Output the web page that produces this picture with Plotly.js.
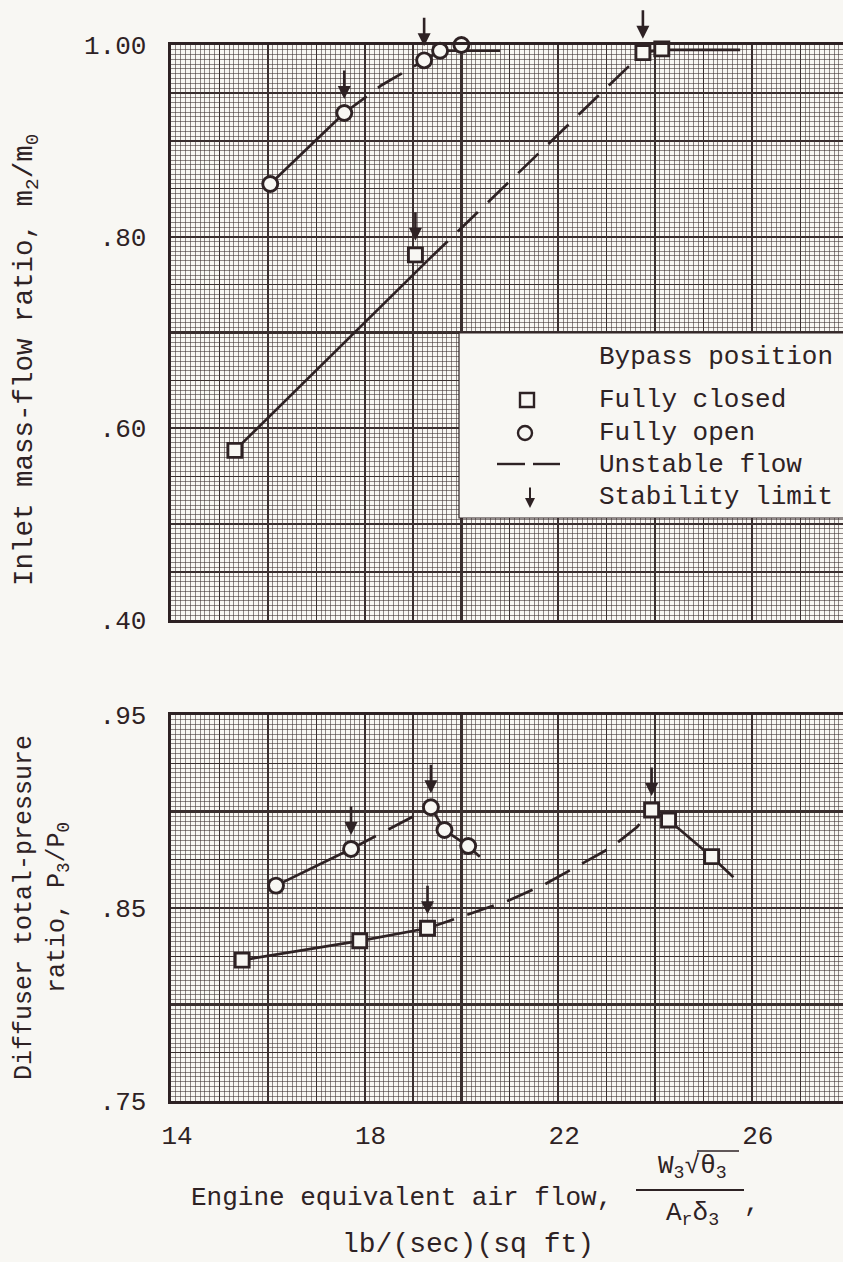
<!DOCTYPE html>
<html><head><meta charset="utf-8">
<script src="https://cdn.plot.ly/plotly-3.0.1.min.js"></script>
<style>html,body{margin:0;padding:0;background:#f8f7f3}</style>
</head><body><div id="chart" style="width:843px;height:1262px"></div>
<script>
// ---------- data ----------
// tick labels
const xTickVals = [14, 18, 22, 26];
const xTickText = ['14', '18', '22', '26'];
const topTickVals = [0.40, 0.60, 0.80, 1.00];
const topTickText = ['.40', '.60', '.80', '1.00'];
const botTickVals = [0.75, 0.85, 0.95];
const botTickText = ['.75', '.85', '.95'];

// Inlet mass-flow ratio m2/m0 -- measured points
const closedTopX = [15.32, 19.05, 23.75, 24.14, 24.97];
const closedTopY = [0.577, 0.781, 0.992, 0.996, 1.004];
const openTopX = [16.05, 17.58, 19.23, 19.56, 20.00];
const openTopY = [0.855, 0.929, 0.984, 0.994, 1.000];
// faired curves
const closedTopStableLowX = [15.32, 19.30];
const closedTopStableLowY = [0.577, 0.775];
const closedTopUnstableX = [19.30, 23.75];
const closedTopUnstableY = [0.775, 0.992];
const closedTopStableHighX = [23.75, 24.14, 25.76];
const closedTopStableHighY = [0.992, 0.995, 0.995];
const openTopStableLowX = [16.05, 17.58];
const openTopStableLowY = [0.855, 0.929];
const openTopUnstableX = [17.58, 18.35, 19.23];
const openTopUnstableY = [0.929, 0.958, 0.984];
const openTopStableHighX = [19.23, 19.56, 20.80];
const openTopStableHighY = [0.984, 0.994, 0.994];

// Diffuser total-pressure ratio P3/P0 -- measured points
const closedBotX = [15.47, 17.90, 19.30, 23.93, 24.28, 25.17];
const closedBotY = [0.823, 0.833, 0.8395, 0.9008, 0.8956, 0.8766];
const openBotX = [16.17, 17.72, 19.37, 19.65, 20.14];
const openBotY = [0.8616, 0.8806, 0.9022, 0.8904, 0.8821];
// faired curves
const closedBotStableLowX = [15.47, 17.90, 19.30];
const closedBotStableLowY = [0.823, 0.833, 0.8395];
const closedBotUnstableX = [19.30, 20.28, 21.00, 21.73, 22.45, 23.11, 23.63, 23.93];
const closedBotUnstableY = [0.8395, 0.8479, 0.8541, 0.8624, 0.8723, 0.8816, 0.8920, 0.9008];
const closedBotStableHighX = [23.93, 24.28, 25.17, 25.62];
const closedBotStableHighY = [0.9008, 0.8956, 0.8766, 0.8659];
const openBotStableLowX = [16.17, 17.72];
const openBotStableLowY = [0.8616, 0.8806];
const openBotUnstableX = [17.72, 19.37];
const openBotUnstableY = [0.8806, 0.9022];
const openBotStableHighX = [19.37, 19.65, 20.14, 20.38];
const openBotStableHighY = [0.9022, 0.8904, 0.8821, 0.8766];

// stability-limit points (indices into measured series)
const closedTopLimits = [1, 2];
const openTopLimits = [1, 2];
const closedBotLimits = [2, 3];
const openBotLimits = [1, 2];

// ---------- styling ----------
const BG = '#f8f7f3';
const INK = '#2e2224';
const GRID = '#3a2f2f';
const GRID_MINOR = 'rgba(62,50,50,0.72)';
const FONT = '"Liberation Mono", "Courier New", monospace';
const FS = 26;

const L = 171, R = 843, T = 45, B = 1101, W = 843, H = 1262;
const px = v => (v - L) / (R - L);
const py = v => (B - v) / (B - T);
const X_MAX = 14 + (R - L) / 48.4;

function lineTrace(x, y, ya, dashed) {
  return {type: 'scatter', mode: 'lines', x: x, y: y, xaxis: 'x', yaxis: ya, cliponaxis: false,
    line: {color: INK, width: 2.7, dash: dashed ? '28px,14px' : 'solid'},
    hoverinfo: 'skip', showlegend: false};
}
function markerTrace(x, y, ya, symbol, name) {
  return {type: 'scatter', mode: 'markers', x: x, y: y, xaxis: 'x', yaxis: ya, name: name,
    cliponaxis: false,
    marker: {symbol: symbol, size: symbol === 'square' ? 14 : 15, color: BG,
      line: {color: INK, width: 2.9}}, showlegend: false};
}
function gridCarrier(xa, ya) {
  return {type: 'scatter', mode: 'lines', x: [], y: [], xaxis: xa, yaxis: ya,
    hoverinfo: 'skip', showlegend: false};
}

const traces = [
  gridCarrier('x2', 'y3'), gridCarrier('x3', 'y4'),
  gridCarrier('x2', 'y5'), gridCarrier('x3', 'y6'),
  lineTrace(closedTopStableLowX, closedTopStableLowY, 'y', false),
  lineTrace(closedTopUnstableX, closedTopUnstableY, 'y', true),
  lineTrace(closedTopStableHighX, closedTopStableHighY, 'y', false),
  lineTrace(openTopStableLowX, openTopStableLowY, 'y', false),
  lineTrace(openTopUnstableX, openTopUnstableY, 'y', true),
  lineTrace(openTopStableHighX, openTopStableHighY, 'y', false),
  lineTrace(closedBotStableLowX, closedBotStableLowY, 'y2', false),
  lineTrace(closedBotUnstableX, closedBotUnstableY, 'y2', true),
  lineTrace(closedBotStableHighX, closedBotStableHighY, 'y2', false),
  lineTrace(openBotStableLowX, openBotStableLowY, 'y2', false),
  lineTrace(openBotUnstableX, openBotUnstableY, 'y2', true),
  lineTrace(openBotStableHighX, openBotStableHighY, 'y2', false),
  markerTrace(closedTopX, closedTopY, 'y', 'square', 'Fully closed'),
  markerTrace(openTopX, openTopY, 'y', 'circle', 'Fully open'),
  markerTrace(closedBotX, closedBotY, 'y2', 'square', 'Fully closed'),
  markerTrace(openBotX, openBotY, 'y2', 'circle', 'Fully open')
];

const tickFont = {family: FONT, size: FS, color: INK};
const TOP_DOMAIN = [py(620), 1];
const BOT_DOMAIN = [0, py(715)];
const HEAVY = 2.2, MEDIUM = 1.3, MINOR = 0.8;

function labelledY(domain, range, vals, text, minorStep) {
  return {domain: domain, anchor: 'x', range: range, tickmode: 'array', tickvals: vals, ticktext: text,
    showgrid: true, gridcolor: GRID, gridwidth: HEAVY, zeroline: false,
    showline: true, linecolor: INK, linewidth: 3.4, ticks: '', tickfont: tickFont,
    ticklabelstandoff: 16,
    minor: {tickmode: 'linear', tick0: range[0], dtick: minorStep, showgrid: true,
      gridcolor: GRID_MINOR, gridwidth: MINOR, ticks: ''}};
}
function overlayY(over, anchor, range, step, width) {
  return {overlaying: over, anchor: anchor, range: range, tickmode: 'linear', tick0: range[0], dtick: step,
    showgrid: true, gridcolor: GRID, gridwidth: width, zeroline: false, showline: false,
    showticklabels: false, ticks: ''};
}
function overlayX(anchor, step, width) {
  return {overlaying: 'x', anchor: anchor, range: [14, X_MAX], tickmode: 'linear', tick0: 14, dtick: step,
    showgrid: true, gridcolor: GRID, gridwidth: width, zeroline: false, showline: false,
    showticklabels: false, ticks: ''};
}

const annotations = [];
// stability limit arrows above the limit points
function addLimits(xs, ys, idx, yref) {
  idx.forEach(i => annotations.push({x: xs[i], y: ys[i], xref: 'x', yref: yref, text: '',
    showarrow: true, arrowhead: 2, arrowsize: 1, arrowwidth: 2.6, arrowcolor: INK,
    ax: 0, ay: -44, standoff: 14}));
}
addLimits(closedTopX, closedTopY, closedTopLimits, 'y');
addLimits(openTopX, openTopY, openTopLimits, 'y');
addLimits(closedBotX, closedBotY, closedBotLimits, 'y2');
addLimits(openBotX, openBotY, openBotLimits, 'y2');

function txt(text, x, y, opts, size) {
  return Object.assign({text: text, x: px(x), y: py(y), xref: 'paper', yref: 'paper',
    showarrow: false, xanchor: 'center', yanchor: 'middle',
    font: {family: FONT, size: size || FS, color: INK}}, opts || {});
}
// legend texts
annotations.push(txt('Bypass position', 597, 357, {xanchor: 'left'}));
annotations.push(txt('Fully closed', 597, 400, {xanchor: 'left'}));
annotations.push(txt('Fully open', 597, 433, {xanchor: 'left'}));
annotations.push(txt('Unstable flow', 597, 465, {xanchor: 'left'}));
annotations.push(txt('Stability limit', 597, 497, {xanchor: 'left'}));
annotations.push({x: px(530), y: py(508), xref: 'paper', yref: 'paper', text: '', showarrow: true,
  arrowhead: 2, arrowsize: 1, arrowwidth: 2, arrowcolor: INK, ax: 0, ay: -22});
// axis titles
annotations.push(txt('Inlet mass-flow ratio, m<sub>2</sub>/m<sub>0</sub>', 26, 360, {textangle: -90}, 27.5));
annotations.push(txt('Diffuser total-pressure<br>ratio, P<sub>3</sub>/P<sub>0</sub>', 42, 908, {textangle: -90}, 25));
annotations.push(txt('Engine equivalent air flow,', 401, 1198));
annotations.push(txt('W<sub>3</sub>√θ<sub>3</sub>', 692, 1167));
annotations.push(txt('A<sub>r</sub>δ<sub>3</sub>', 692, 1214));
annotations.push(txt(',', 752, 1204));
annotations.push(txt('lb/(sec)(sq ft)', 468, 1244, null, 28));

const shapes = [
  // legend box
  {type: 'rect', xref: 'paper', yref: 'paper', x0: px(459), x1: px(850), y0: py(518), y1: py(333),
    fillcolor: BG, line: {color: INK, width: 1.2}, layer: 'above'},
  {type: 'rect', xref: 'paper', yref: 'paper', x0: px(520), x1: px(534), y0: py(407), y1: py(393),
    line: {color: INK, width: 2.4}, layer: 'above'},
  {type: 'circle', xref: 'paper', yref: 'paper', x0: px(518), x1: px(532), y0: py(440), y1: py(426),
    line: {color: INK, width: 2.4}, layer: 'above'},
  {type: 'line', xref: 'paper', yref: 'paper', x0: px(497), x1: px(525), y0: py(464), y1: py(464),
    line: {color: INK, width: 2.4}, layer: 'above'},
  {type: 'line', xref: 'paper', yref: 'paper', x0: px(533), x1: px(560), y0: py(464), y1: py(464),
    line: {color: INK, width: 2.4}, layer: 'above'},
  // fraction bar and radical overline of the x title
  {type: 'line', xref: 'paper', yref: 'paper', x0: px(636), x1: px(744), y0: py(1190), y1: py(1190),
    line: {color: INK, width: 2}},
  {type: 'line', xref: 'paper', yref: 'paper', x0: px(697), x1: px(739), y0: py(1151), y1: py(1151),
    line: {color: INK, width: 1.6}}
];

const layout = {
  width: W, height: H, paper_bgcolor: BG, plot_bgcolor: BG, showlegend: false,
  margin: {l: L, r: W - R, t: T, b: H - B, pad: 0},
  font: {family: FONT, size: FS, color: INK},
  xaxis: {domain: [0, 1], anchor: 'y2', range: [14, X_MAX], tickmode: 'array',
    tickvals: xTickVals, ticktext: xTickText, showgrid: true, gridcolor: GRID, gridwidth: HEAVY,
    zeroline: false, showline: true, linecolor: INK, linewidth: 3.4, mirror: 'all', ticks: '',
    tickfont: tickFont, ticklabelstandoff: 8, ticklabelshift: 6,
    minor: {tickmode: 'linear', tick0: 14, dtick: 0.1, showgrid: true, gridcolor: GRID_MINOR,
      gridwidth: MINOR, ticks: ''}},
  xaxis2: overlayX('y3', 1, MEDIUM),
  xaxis3: overlayX('y4', 2, HEAVY),
  yaxis: labelledY(TOP_DOMAIN, [0.40, 1.00], topTickVals, topTickText, 0.005),
  yaxis2: labelledY(BOT_DOMAIN, [0.75, 0.95], botTickVals, botTickText, 0.0025),
  yaxis3: overlayY('y', 'x2', [0.40, 1.00], 0.05, MEDIUM),
  yaxis4: overlayY('y', 'x3', [0.40, 1.00], 0.10, HEAVY),
  yaxis5: overlayY('y2', 'x2', [0.75, 0.95], 0.025, MEDIUM),
  yaxis6: overlayY('y2', 'x3', [0.75, 0.95], 0.05, HEAVY),
  annotations: annotations,
  shapes: shapes
};

Plotly.newPlot('chart', traces, layout, {staticPlot: true, displayModeBar: false});
</script></body></html>
